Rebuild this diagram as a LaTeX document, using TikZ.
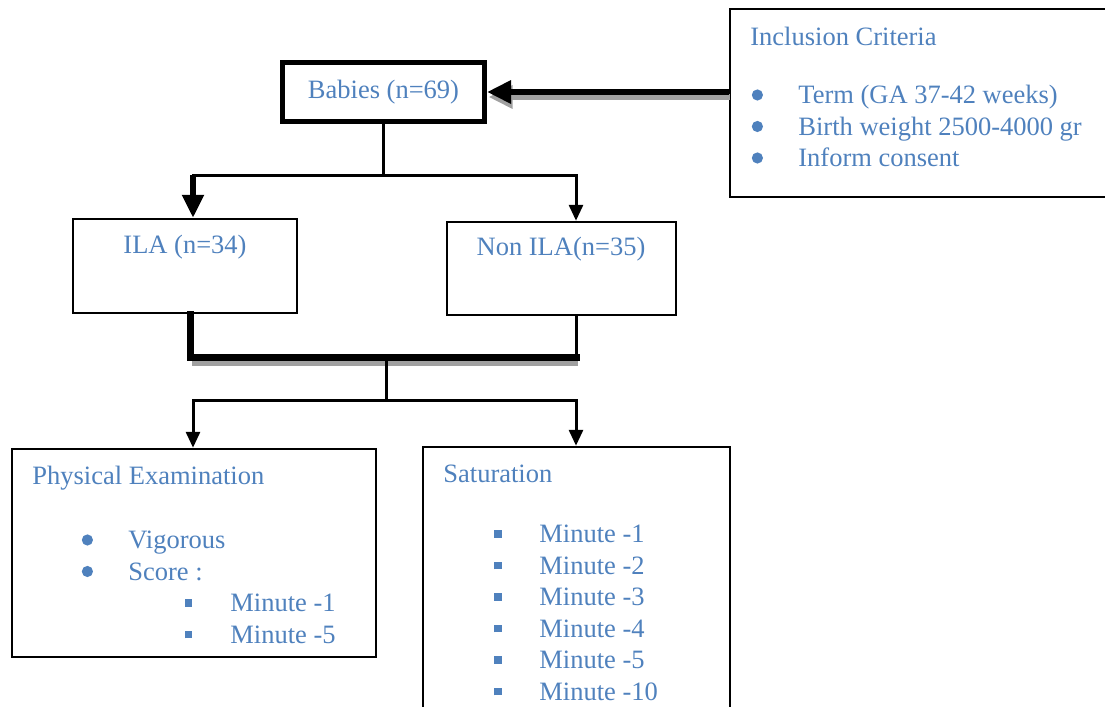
\documentclass[tikz,border=0pt]{standalone}
\usepackage{fontspec}
\setmainfont{Liberation Serif}
\usetikzlibrary{arrows.meta, positioning}
\definecolor{txtblue}{RGB}{79,129,189}
\definecolor{shadegray}{RGB}{160,160,160}
\newcommand{\dotrow}[3]{\makebox[#2][l]{\hspace*{#1}\raisebox{1.6pt}{\tikz\fill[txtblue] (0pt,0pt) circle (2.8pt);}}#3}
\newcommand{\squarerow}[3]{\makebox[#2][l]{\hspace*{#1}\rule[2.5pt]{3.8pt}{3.8pt}}#3}

\begin{document}
\begin{tikzpicture}[x=0.5pt, y=-0.5pt,
  box/.style={draw, line width=1.25pt, inner sep=0pt},
  txt/.style={text=txtblue, font=\fontsize{13.25}{15.75}\selectfont, inner sep=0pt, align=left},
  thinline/.style={line width=1.5pt, line cap=rect},
  heavyline/.style={line width=3.5pt, line cap=rect},
  shaded/.style={preaction={draw=shadegray, line width=#1, transform canvas={xshift=0.75pt, yshift=-2.5pt}}},
  feedarrow/.style={line width=3.25pt, -{Triangle[length=12pt, width=11pt]}},
  heavyarrow/.style={line width=2.75pt, -{Triangle[length=11.5pt, width=10.5pt]}},
  lightarrow/.style={line width=1.5pt, -{Triangle[length=8pt, width=7pt]}}]
  \useasboundingbox (0,0) rectangle (1105,707);

  % Boxes
  \node[box, txt, line width=2.5pt, minimum width=101pt, minimum height=29.5pt] (babies) at (383.5,92) {Babies (n=69)};
  \node[box, minimum width=195pt, minimum height=94pt] (incl) at (925,103) {};
  \node[box, minimum width=112pt, minimum height=47pt] (ila) at (185,266) {};
  \node[box, minimum width=114.5pt, minimum height=46.5pt] (nonila) at (561.5,268.5) {};
  \node[box, minimum width=182pt, minimum height=104pt] (phys) at (194,553) {};
  \node[box, minimum width=153.5pt, minimum height=139pt] (sat) at (576.5,586) {};

  % Box texts
  \node[txt, anchor=north west] (incltxt) at (750,27) {Inclusion Criteria\\[13.25pt]
    \dotrow{0.7pt}{24pt}{Term (GA 37-42 weeks)}\\
    \dotrow{0.7pt}{24pt}{Birth weight 2500-4000 gr}\\
    \dotrow{0.7pt}{24pt}{Inform consent}};
  \node[txt] (ilatxt) at (185,247) {ILA (n=34)};
  \node[txt] (nonilatxt) at (561,249) {Non ILA(n=35)};
  \node[txt, anchor=north west] (phystxt) at (32,466) {Physical Examination\\[16.25pt]
    \dotrow{24.7pt}{48pt}{Vigorous}\\
    \dotrow{24.7pt}{48pt}{Score :}\\
    \squarerow{76.25pt}{99pt}{Minute -1}\\
    \squarerow{76.25pt}{99pt}{Minute -5}};
  \node[txt, anchor=north west] (sattxt) at (443,465) {Saturation\\[14.25pt]
    \squarerow{25.25pt}{48pt}{Minute -1}\\
    \squarerow{25.25pt}{48pt}{Minute -2}\\
    \squarerow{25.25pt}{48pt}{Minute -3}\\
    \squarerow{25.25pt}{48pt}{Minute -4}\\
    \squarerow{25.25pt}{48pt}{Minute -5}\\
    \squarerow{25.25pt}{48pt}{Minute -10}};

  % Criteria into babies
  \draw[feedarrow, shaded=3.25pt] (incl.west |- babies.east) -- (babies.east);

  % Split into the two groups
  \coordinate (forkL) at (193,175);
  \coordinate (forkR) at (576,175);
  \draw[thinline] (babies.south) -- (babies.south |- forkL);
  \draw[thinline] (forkL) -- (forkR);
  \draw[heavyarrow] (forkL) -- (forkL |- ila.north);
  \draw[lightarrow] (forkR) -- (forkR |- nonila.north);

  % Groups joined again
  \coordinate (joinL) at (190,357);
  \coordinate (joinR) at (576,357);
  \coordinate (joinM) at (386,357);
  \draw[heavyline] (joinL |- ila.south) -- (joinL);
  \draw[heavyline, shaded=3.5pt] (joinL) -- (joinR);
  \draw[thinline] (joinR |- nonila.south) -- (joinR);

  % Outcomes
  \coordinate (forkBL) at (193,400);
  \coordinate (forkBR) at (576,400);
  \draw[thinline] (joinM) -- (joinM |- forkBL);
  \draw[thinline] (forkBL) -- (forkBR);
  \draw[lightarrow] (forkBL) -- (forkBL |- phys.north);
  \draw[lightarrow] (forkBR) -- (forkBR |- sat.north);
\end{tikzpicture}
\end{document}
